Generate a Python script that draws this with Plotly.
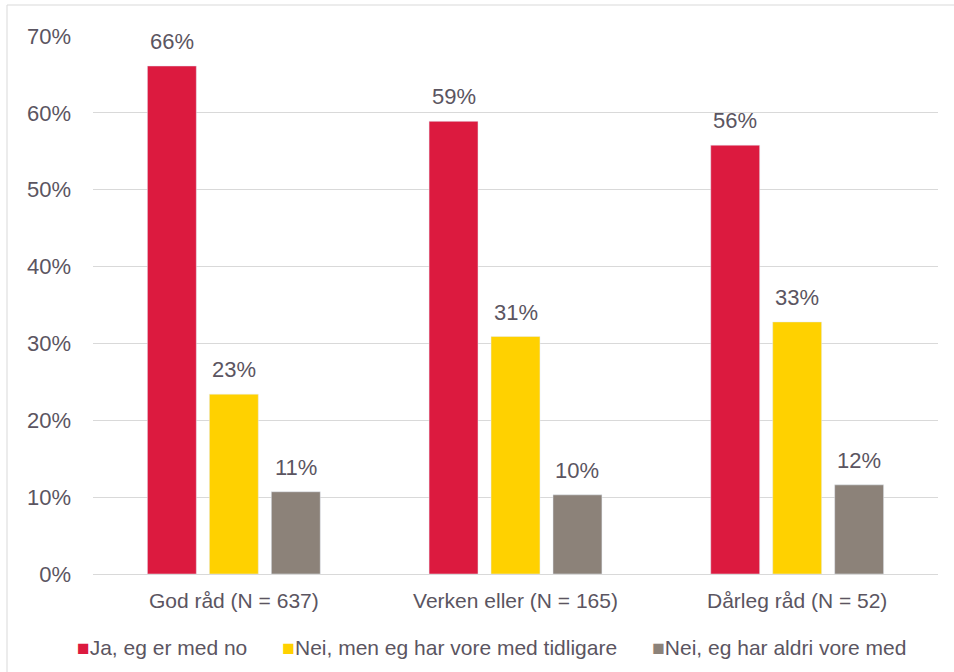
import plotly.graph_objects as go

categories = ["God råd (N = 637)", "Verken eller (N = 165)", "Dårleg råd (N = 52)"]
series_names = ["Ja, eg er med no", "Nei, men eg har vore med tidligare", "Nei, eg har aldri vore med"]
ja_values = [0.661, 0.589, 0.558]
nei_tidl_values = [0.234, 0.309, 0.328]
nei_aldri_values = [0.107, 0.103, 0.116]
colors = ["#DC1A3F", "#FFD100", "#8C8279"]
y_ticks = [0, 0.1, 0.2, 0.3, 0.4, 0.5, 0.6, 0.7]

TEXT = "#5B5561"
W, H = 954, 672
ML, MR, MT, MB = 93, 16, 36, 98
BARGAP, GROUPGAP = 0.34, 0.21
plot_w = W - ML - MR
plot_h = H - MT - MB
pitch = plot_w / len(categories) * (1 - BARGAP) / 3

fig = go.Figure()
all_series = [ja_values, nei_tidl_values, nei_aldri_values]
annotations = []
for i, (name, vals, col) in enumerate(zip(series_names, all_series, colors)):
    fig.add_trace(go.Bar(x=categories, y=vals, name=name, marker_color=col,
                         showlegend=False))
    for cat, v in zip(categories, vals):
        annotations.append(dict(
            x=cat, y=v, xref="x", yref="y", text=f"{round(v * 100):.0f}%",
            showarrow=False, yanchor="bottom", xanchor="center",
            xshift=(i - 1) * pitch, yshift=10,
            font=dict(size=22, color=TEXT)))

# legend drawn as one line of text with coloured square glyphs
gap = "\u00a0" * 6
legend_text = gap.join(
    f"<span style='color:{c}'>■</span>{n}" for n, c in zip(series_names, colors))
annotations.append(dict(
    x=(491 - ML) / plot_w, y=-(648 - (H - MB)) / plot_h, xref="paper", yref="paper",
    text=legend_text, showarrow=False, xanchor="center", yanchor="middle",
    font=dict(size=21, color=TEXT)))

fig.update_layout(
    width=W, height=H,
    margin=dict(l=ML, r=MR, t=MT, b=MB),
    paper_bgcolor="white", plot_bgcolor="white",
    font=dict(family="Liberation Sans, Arial, sans-serif", color=TEXT),
    barmode="group", bargap=BARGAP, bargroupgap=GROUPGAP,
    showlegend=False,
    yaxis=dict(range=[0, 0.7], tickvals=y_ticks, tickformat=".0%",
               showgrid=True, gridcolor="#D9D9D9", gridwidth=1,
               zeroline=True, zerolinecolor="#D9D9D9", zerolinewidth=1,
               automargin=False,
               tickfont=dict(size=22, color=TEXT), ticklabelstandoff=21),
    xaxis=dict(tickfont=dict(size=21, color=TEXT), showline=False, ticks="",
               automargin=False, ticklabelstandoff=12),
    annotations=annotations,
    shapes=[dict(type="rect", xref="paper", yref="paper",
                 x0=(7 - ML) / plot_w, x1=(W + 20 - ML) / plot_w,
                 y0=-(MB + 20) / plot_h, y1=(H - MB - 5) / plot_h,
                 line=dict(color="#D9D9D9", width=1),
                 fillcolor="rgba(0,0,0,0)", layer="below")],
)
fig.write_html("out.html", config={"displayModeBar": False},
               post_script="document.body.style.margin='0';")
